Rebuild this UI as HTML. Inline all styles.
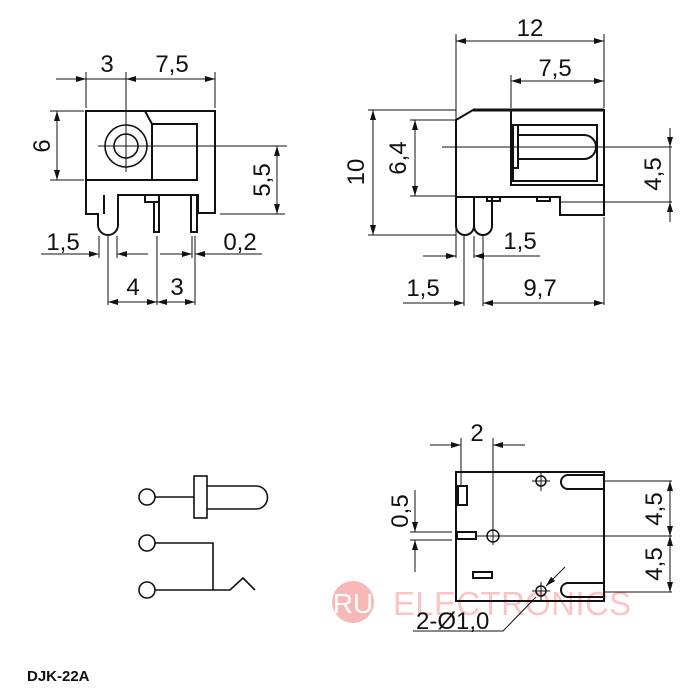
<!DOCTYPE html>
<html><head><meta charset="utf-8"><style>
html,body{margin:0;padding:0;background:#fff;}
svg{display:block;}
text{font-family:"Liberation Sans",sans-serif;fill:#111;}
</style></head><body>
<svg width="700" height="700" viewBox="0 0 700 700" xmlns="http://www.w3.org/2000/svg">
<defs>
<marker id="a" viewBox="0 0 10 6" refX="10" refY="3" markerWidth="10" markerHeight="6" markerUnits="userSpaceOnUse" orient="auto-start-reverse"><path d="M0,0 L10,3 L0,6 z" fill="#111"/></marker>
</defs>
<!-- watermark -->
<g opacity="0.6">
<circle cx="353" cy="602" r="21" fill="#f58a8a"/>
<text x="353" y="613" font-size="28" text-anchor="middle" style="fill:#fff">RU</text>
<text x="393" y="615" font-size="33" textLength="238" style="fill:#f7a0a0">ELECTRONICS</text>
</g>
<g fill="none" stroke="#111" stroke-width="1">
<!-- VIEW 1 -->
<line x1="56" y1="79" x2="86" y2="79" marker-end="url(#a)"/>
<line x1="86" y1="79" x2="126" y2="79"/>
<line x1="126" y1="79" x2="215" y2="79" marker-start="url(#a)" marker-end="url(#a)"/>
<line x1="86" y1="72" x2="86" y2="108"/>
<line x1="215" y1="72" x2="215" y2="108"/>
<line x1="126" y1="72" x2="126" y2="172"/>
<line x1="98" y1="146" x2="287" y2="146"/>
<path d="M86,111 H215 V213 H198 V195 H118 V225 A10,10 0 0 1 98,225 V214 H86 Z" stroke-width="2"/>
<line x1="104" y1="195" x2="104" y2="214" stroke-width="2"/>
<line x1="86" y1="180" x2="198" y2="180" stroke-width="2"/>
<path d="M145,111 L152,124 H197 V180" stroke-width="2"/>
<line x1="152" y1="124" x2="152" y2="180" stroke-width="2"/>
<circle cx="126" cy="146" r="21" stroke-width="1.6"/>
<circle cx="126" cy="146" r="12" stroke-width="1.6"/>
<rect x="154" y="202" width="5" height="30" stroke-width="2"/>
<rect x="145" y="195" width="14" height="7" stroke-width="2"/>
<rect x="191" y="195" width="6" height="37" stroke-width="2"/>
<line x1="50" y1="111" x2="84" y2="111"/>
<line x1="50" y1="180" x2="84" y2="180"/>
<line x1="57" y1="111" x2="57" y2="180" marker-start="url(#a)" marker-end="url(#a)"/>
<line x1="220" y1="214" x2="285" y2="214"/>
<line x1="277" y1="146" x2="277" y2="214" marker-start="url(#a)" marker-end="url(#a)"/>
<line x1="99" y1="236" x2="99" y2="258"/>
<line x1="117" y1="236" x2="117" y2="258"/>
<line x1="108" y1="236" x2="108" y2="305"/>
<line x1="157" y1="236" x2="157" y2="305"/>
<line x1="192" y1="236" x2="192" y2="258"/>
<line x1="195" y1="236" x2="195" y2="305"/>
<line x1="41" y1="254" x2="99" y2="254" marker-end="url(#a)"/>
<line x1="148" y1="254" x2="117" y2="254" marker-end="url(#a)"/>
<line x1="160" y1="254" x2="192" y2="254" marker-end="url(#a)"/>
<line x1="262" y1="254" x2="195" y2="254" marker-end="url(#a)"/>
<line x1="108" y1="302" x2="157" y2="302" marker-start="url(#a)" marker-end="url(#a)"/>
<line x1="157" y1="302" x2="195" y2="302" marker-start="url(#a)" marker-end="url(#a)"/>
<!-- VIEW 2 -->
<line x1="456" y1="34" x2="456" y2="258"/>
<line x1="604" y1="34" x2="604" y2="108"/>
<line x1="604" y1="217" x2="604" y2="305"/>
<line x1="511" y1="75" x2="511" y2="108"/>
<line x1="456" y1="41" x2="604" y2="41" marker-start="url(#a)" marker-end="url(#a)"/>
<line x1="511" y1="81" x2="604" y2="81" marker-start="url(#a)" marker-end="url(#a)"/>
<path d="M456,120 L473,110 H604 V215 H560 V197 H456 Z" stroke-width="2"/>
<line x1="473" y1="110" x2="604" y2="110" stroke-width="3"/>
<rect x="511" y="110" width="93" height="75" stroke-width="2"/>
<rect x="513" y="125" width="84" height="56" stroke-width="2"/>
<rect x="513" y="125" width="5" height="43" stroke-width="2"/>
<path d="M518,135 H584 A12,12 0 0 1 584,159 H518" stroke-width="2"/>
<line x1="442" y1="147" x2="672" y2="147"/>
<rect x="487" y="197" width="13" height="4" stroke-width="2"/>
<rect x="537" y="197" width="13" height="4" stroke-width="2"/>
<path d="M456,197 V226 A9,9 0 0 0 474,226 A9,9 0 0 0 492,226 V197" stroke-width="2"/>
<line x1="474" y1="197" x2="474" y2="226" stroke-width="2"/>
<line x1="560" y1="202" x2="672" y2="202"/>
<line x1="368" y1="110" x2="456" y2="110"/>
<line x1="368" y1="235" x2="456" y2="235"/>
<line x1="373" y1="110" x2="373" y2="235" marker-start="url(#a)" marker-end="url(#a)"/>
<line x1="410" y1="120" x2="456" y2="120"/>
<line x1="410" y1="196" x2="456" y2="196"/>
<line x1="415" y1="120" x2="415" y2="196" marker-start="url(#a)" marker-end="url(#a)"/>
<line x1="670" y1="128" x2="670" y2="147" marker-end="url(#a)"/>
<line x1="670" y1="147" x2="670" y2="202"/>
<line x1="670" y1="222" x2="670" y2="202" marker-end="url(#a)"/>
<line x1="464" y1="236" x2="464" y2="306"/>
<line x1="483" y1="236" x2="483" y2="306"/>
<line x1="474" y1="236" x2="474" y2="258"/>
<line x1="423" y1="256" x2="456" y2="256" marker-end="url(#a)"/>
<line x1="540" y1="256" x2="474" y2="256" marker-end="url(#a)"/>
<line x1="403" y1="303" x2="464" y2="303" marker-end="url(#a)"/>
<line x1="483" y1="303" x2="604" y2="303" marker-start="url(#a)" marker-end="url(#a)"/>
<!-- VIEW 3 -->
<rect x="456" y="472" width="148" height="129" stroke-width="2"/>
<line x1="461" y1="438" x2="461" y2="486"/>
<line x1="493" y1="438" x2="493" y2="545"/>
<line x1="430" y1="445" x2="461" y2="445" marker-end="url(#a)"/>
<line x1="525" y1="445" x2="493" y2="445" marker-end="url(#a)"/>
<rect x="458" y="486" width="9" height="19" stroke-width="2"/>
<rect x="457" y="532" width="19" height="7" stroke-width="2"/>
<rect x="473" y="572" width="19" height="6" stroke-width="2"/>
<line x1="476" y1="536" x2="672" y2="536"/>
<circle cx="493" cy="536" r="6" stroke-width="1.5"/>
<circle cx="541" cy="481" r="5" stroke-width="1.5"/>
<line x1="541" y1="472" x2="541" y2="491"/><line x1="532" y1="481" x2="550" y2="481"/>
<circle cx="541" cy="591" r="5" stroke-width="1.5"/>
<line x1="541" y1="582" x2="541" y2="601"/><line x1="532" y1="591" x2="550" y2="591"/>
<path d="M604,475 H568 A7,7 0 0 0 568,489 H604" stroke-width="2"/>
<path d="M604,583 H568 A7,7 0 0 0 568,597 H604" stroke-width="2"/>
<line x1="604" y1="481" x2="672" y2="481"/>
<line x1="604" y1="592" x2="672" y2="592"/>
<line x1="670" y1="481" x2="670" y2="536" marker-start="url(#a)" marker-end="url(#a)"/>
<line x1="670" y1="536" x2="670" y2="592" marker-start="url(#a)" marker-end="url(#a)"/>
<line x1="410" y1="532" x2="452" y2="532"/>
<line x1="410" y1="540" x2="452" y2="540"/>
<line x1="415" y1="490" x2="415" y2="532" marker-end="url(#a)"/>
<line x1="415" y1="572" x2="415" y2="540" marker-end="url(#a)"/>
<line x1="565" y1="567" x2="546" y2="586" marker-end="url(#a)"/>
<path d="M536,597 L503,631 H413"/>
<!-- schematic -->
<g stroke-width="1.6">
<circle cx="147" cy="497" r="8"/>
<line x1="155" y1="497" x2="194" y2="497"/>
<rect x="194" y="476" width="13" height="42"/>
<path d="M207,486 H256 A11.5,11.5 0 0 1 256,509 H207"/>
<circle cx="147" cy="543" r="8"/>
<path d="M155,543 H213 V590"/>
<circle cx="147" cy="590" r="8"/>
<path d="M155,590 H230 L243,578 L255,590"/>
</g>
</g>
<!-- text -->
<g font-size="24">
<text x="107" y="72" text-anchor="middle">3</text>
<text x="172" y="72" text-anchor="middle">7,5</text>
<text transform="translate(50,146) rotate(-90)" text-anchor="middle">6</text>
<text transform="translate(270,180) rotate(-90)" text-anchor="middle">5,5</text>
<text x="63" y="250" text-anchor="middle">1,5</text>
<text x="240" y="250" text-anchor="middle">0,2</text>
<text x="133" y="295" text-anchor="middle">4</text>
<text x="177" y="295" text-anchor="middle">3</text>
<text x="530" y="36" text-anchor="middle">12</text>
<text x="555" y="76" text-anchor="middle">7,5</text>
<text transform="translate(364,172) rotate(-90)" text-anchor="middle">10</text>
<text transform="translate(406,158) rotate(-90)" text-anchor="middle">6,4</text>
<text transform="translate(661,174) rotate(-90)" text-anchor="middle">4,5</text>
<text x="520" y="249" text-anchor="middle">1,5</text>
<text x="423" y="296" text-anchor="middle">1,5</text>
<text x="540" y="296" text-anchor="middle">9,7</text>
<text x="477" y="441" text-anchor="middle">2</text>
<text transform="translate(408,511) rotate(-90)" text-anchor="middle">0,5</text>
<text transform="translate(662,509) rotate(-90)" text-anchor="middle">4,5</text>
<text transform="translate(662,564) rotate(-90)" text-anchor="middle">4,5</text>
<text x="416" y="629">2-Ø1,0</text>
</g>
<text x="27" y="681" font-size="15" font-weight="bold">DJK-22A</text>
</svg>
</body></html>
